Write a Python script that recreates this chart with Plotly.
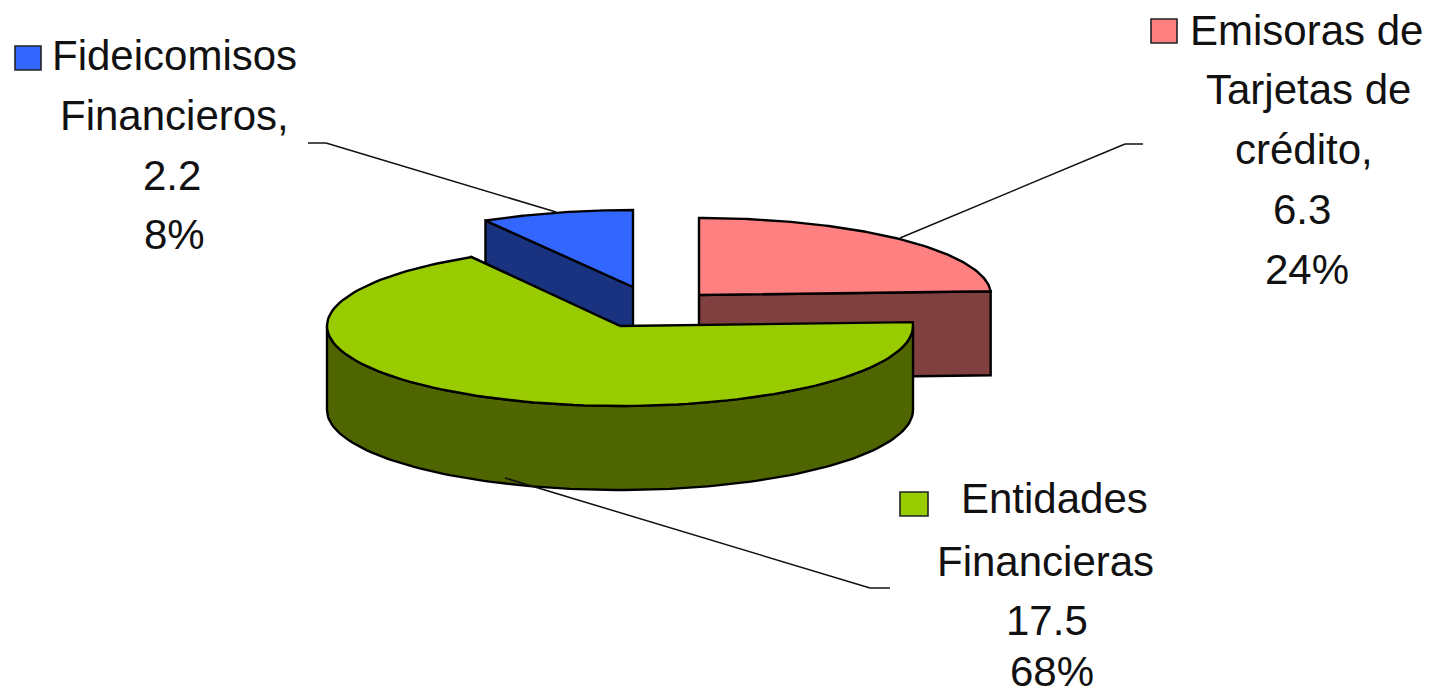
import numpy as np
import plotly.graph_objects as go

categories = ["Emisoras de Tarjetas de crédito", "Entidades Financieras", "Fideicomisos Financieros"]
values = [6.3, 17.5, 2.2]
percent_labels = ["24%", "68%", "8%"]
top_colors = ["#FF8080", "#99CC00", "#3366FF"]
side_colors = ["#804040", "#4F6600", "#1A3380"]

# pie geometry in the picture's coordinate system
CENTERS = [(699, 295), (620, 326), (633, 287)]
RX = [292, 293, 291]
RY = [77, 80, 77]
DEPTH = 84
LINE = dict(color="black", width=2.4)

total = sum(values)
ends = np.cumsum(values) / total * 360.0
starts = np.concatenate([[0.0], ends[:-1]])


def rim(i, a0, a1, n=120, dy=0.0):
    t = np.radians(np.linspace(a0, a1, n))
    cx, cy = CENTERS[i]
    return cx + RX[i] * np.sin(t), cy - RY[i] * np.cos(t) + dy


def poly(fig, xs, ys, color):
    fig.add_trace(go.Scatter(x=xs, y=ys, mode="lines", fill="toself", fillcolor=color,
                             line=LINE, hoverinfo="skip", showlegend=False))


def cut_face(fig, i, angle):
    cx, cy = CENTERS[i]
    ex, ey = rim(i, angle, angle, n=1)
    poly(fig, [cx, ex[0], ex[0], cx, cx], [cy, ey[0], ey[0] + DEPTH, cy + DEPTH, cy], side_colors[i])


def wall(fig, i, a0, a1):
    a0, a1 = max(a0, 90.0), min(a1, 270.0)
    if a1 <= a0:
        return
    x1, y1 = rim(i, a0, a1)
    x2, y2 = rim(i, a0, a1, dy=DEPTH)
    poly(fig, list(x1) + list(x2[::-1]) + [x1[0]], list(y1) + list(y2[::-1]) + [y1[0]], side_colors[i])


def top(fig, i):
    cx, cy = CENTERS[i]
    x, y = rim(i, starts[i], ends[i])
    poly(fig, [cx] + list(x) + [cx], [cy] + list(y) + [cy], top_colors[i])


fig = go.Figure()

# back slices first, the large front slice last
for i in (0, 2, 1):
    if i == 0:
        cut_face(fig, i, ends[i])
    if i == 2:
        cut_face(fig, i, starts[i])
    if i == 1:
        cut_face(fig, i, ends[i])
    wall(fig, i, starts[i], ends[i])
    top(fig, i)

leaders = [
    [(308, 143), (326, 143), (556, 212)],
    [(1143, 144), (1125, 144), (900, 238)],
    [(890, 588), (870, 588), (505, 478)],
]
shapes = []
for pts in leaders:
    for (x0, y0), (x1, y1) in zip(pts[:-1], pts[1:]):
        shapes.append(dict(type="line", x0=x0, y0=y0, x1=x1, y1=y1,
                           line=dict(color="#111111", width=1.5), layer="above"))

keys = [((1151, 19, 1177, 43), top_colors[0]), ((900, 492, 928, 516), top_colors[1]), ((15, 46, 41, 70), top_colors[2])]
for (x0, y0, x1, y1), c in keys:
    shapes.append(dict(type="rect", x0=x0, y0=y0, x1=x1, y1=y1, fillcolor=c,
                       line=dict(color="#222222", width=1.6), layer="above"))

label_lines = [
    ("Fideicomisos", 174, 55), ("Financieros,", 174, 115), ("2.2", 172, 175), (percent_labels[2], 174, 234),
    ("Emisoras de", 1306, 30), ("Tarjetas de", 1308, 89), ("crédito,", 1304, 149), ("6.3", 1302, 209), (percent_labels[0], 1307, 269),
    ("Entidades", 1054, 498), ("Financieras", 1045, 561), ("17.5", 1047, 620), (percent_labels[1], 1052, 671),
]
annotations = [dict(x=x, y=y, text=t, showarrow=False, xanchor="center", yanchor="middle",
                    font=dict(family="Liberation Sans", size=42, color="#111111"))
               for t, x, y in label_lines]

fig.update_layout(
    width=1437, height=695, margin=dict(l=0, r=0, t=0, b=0),
    paper_bgcolor="white", plot_bgcolor="white", showlegend=False,
    xaxis=dict(range=[0, 1437], visible=False, fixedrange=True),
    yaxis=dict(range=[695, 0], visible=False, fixedrange=True),
    shapes=shapes, annotations=annotations,
)

fig.write_html("out.html", config={"displayModeBar": False},
               post_script="document.body.style.margin='0';")
